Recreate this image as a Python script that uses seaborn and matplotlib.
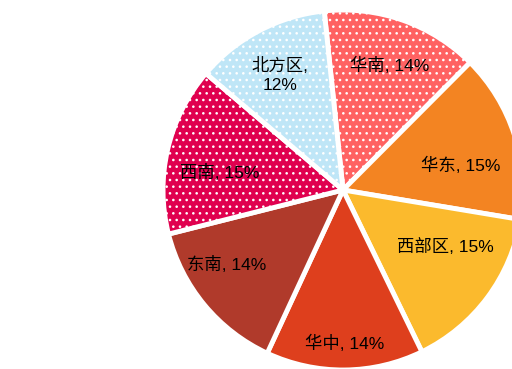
import matplotlib
matplotlib.use("Agg")
import matplotlib.pyplot as plt
import numpy as np
import seaborn as sns

# Regional share data (clockwise from top)
regions = ["华南", "华东", "西部区", "华中", "东南", "西南", "北方区"]
shares = [14, 15, 15, 14, 14, 15, 12]
colors = ["#FF6262", "#F38422", "#FBBA2D", "#DE3F1D", "#B03A2B", "#E0014F", "#BFE6F7"]
dotted = [True, False, False, False, False, True, True]

# Label anchor (radius fraction, angle tweak in degrees) per wedge
label_r = [0.74, 0.67, 0.65, 0.85, 0.77, 0.69, 0.73]
label_da = [-1, -6, 8, 0, -7, 5, 1]

sns.set_theme(style="white")
plt.rcParams["font.family"] = ["Liberation Sans", "Noto Sans CJK SC"]
plt.rcParams["hatch.linewidth"] = 1.1

DPI = 80
fig = plt.figure(figsize=(512 / DPI, 369 / DPI), dpi=DPI)
ax = fig.add_axes([0.3184, -0.0027, 0.7031, 0.9756])

wedges, _ = ax.pie(
    shares,
    colors=colors,
    startangle=96,
    counterclock=False,
    radius=1.0,
    wedgeprops=dict(edgecolor="white", linewidth=4.4),
)
for w, d in zip(wedges, dotted):
    if d:
        w.set_hatch("..")

for w, name, val, r, da in zip(wedges, regions, shares, label_r, label_da):
    mid = np.deg2rad((w.theta1 + w.theta2) / 2 + da)
    x, y = r * np.cos(mid), r * np.sin(mid)
    txt = f"{name},\n{val}%" if name == "北方区" else f"{name}, {val}%"
    ax.text(x, y, txt, ha="center", va="center", fontsize=15.6, color="#000000",
            linespacing=1.3)

ax.set_xlim(-1, 1)
ax.set_ylim(-1, 1)
ax.set_aspect("equal")
ax.axis("off")

fig.savefig("out.png", dpi=DPI)
